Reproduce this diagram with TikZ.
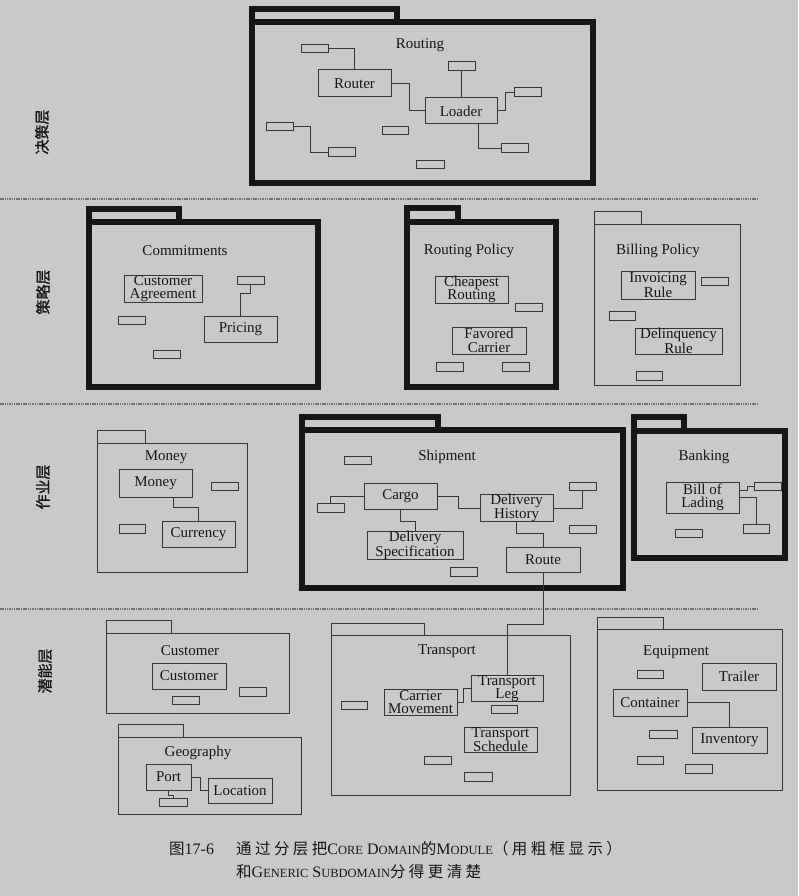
\documentclass[tikz,border=0pt]{standalone}
\usepackage{fontspec}
\setmainfont{Liberation Serif}
\newfontfamily\cjk{Noto Sans CJK SC}
\newfontfamily\cjkbold{Noto Sans CJK SC}[FakeBold=1.3]
\newfontfamily\cjkcap{Noto Sans CJK SC}[LetterSpace=22]
\definecolor{bg}{RGB}{201,201,201}
\definecolor{ink}{RGB}{22,22,22}
\definecolor{thinc}{RGB}{55,55,55}
\definecolor{sepc}{RGB}{115,115,115}
\tikzset{
 thickpkg/.style={draw=ink, line width=5.2pt, line join=miter},
 thinpkg/.style={draw=thinc, line width=1pt},
 clsbox/.style={draw=thinc, line width=1pt, inner sep=0pt, align=center, font=\fontsize{15}{13.3}\selectfont, text=ink},
 smallbox/.style={draw=thinc, line width=1pt, inner sep=0pt},
 conn/.style={draw=thinc, line width=1pt},
 ptitle/.style={font=\fontsize{15}{15}\selectfont, text=ink, inner sep=0pt},
 layerlbl/.style={font=\cjkbold\fontsize{15}{15}\selectfont, rotate=90, text=ink, inner sep=0pt},
 sepline/.style={draw=sepc, line width=1.8pt, dash pattern=on 1.5pt off 0.8pt},
 captxt/.style={font=\fontsize{16}{16}\selectfont, text=ink, inner sep=0pt, anchor=base west},
}
\newcommand\mysc[1]{{\fontsize{12.5}{12.5}\selectfont #1}}
\newcommand\cz[1]{{\cjkcap\fontsize{15.5}{15.5}\selectfont #1}}
\newcommand\cls[6]{\node[clsbox, minimum width={(#4)-(#2)}, minimum height={(#5)-(#3)}] (#1) at ({((#2)+(#4))/2},{((#3)+(#5))/2}) {#6};}
\newcommand\sm[5]{\node[smallbox, minimum width={(#4)-(#2)}, minimum height={(#5)-(#3)}] (#1) at ({((#2)+(#4))/2},{((#3)+(#5))/2}) {};}
% style, x1, ytab, xtab, ytop, x2, y2
\newcommand\pkg[7]{%
 \draw[#1] (#2,#5) -- (#2,#3) -- (#4,#3) -- (#4,#5);
 \draw[#1] (#2,#5) rectangle (#6,#7);}

\begin{document}
\begin{tikzpicture}[x=1pt,y=-1pt]
\useasboundingbox (0,0) rectangle (798,896);
\fill[bg] (0,0) rectangle (798,896);

% separators
\draw[sepline] (0,199) -- (757,199);
\draw[sepline] (0,404) -- (757,404);
\draw[sepline] (0,609) -- (757,609);

% layer labels
\node[layerlbl] (l1) at (42,132) {决策层};
\node[layerlbl] (l2) at (43,292) {策略层};
\node[layerlbl] (l3) at (43,487) {作业层};
\node[layerlbl] (l4) at (45,671) {潜能层};

% ================= Routing =================
\pkg{thickpkg}{252}{9}{397}{22}{593}{183}
\node[ptitle] (tRouting) at (420,45) {Routing};
\cls{router}{318}{70}{391}{97}{Router}
\cls{loader}{425}{98}{497}{124}{Loader}
\sm{r1}{301}{45}{328}{53}
\sm{r2}{448}{62}{475}{71}
\sm{r3}{514}{88}{541}{97}
\sm{r4}{501}{144}{528}{153}
\sm{r5}{266}{123}{293}{131}
\sm{r6}{328}{148}{355}{157}
\sm{r7}{382}{127}{408}{135}
\sm{r8}{416}{161}{444}{169}
\draw[conn] (r1.east) -| (router.north);
\draw[conn] (r2.south) -- (r2.south |- loader.north);
\draw[conn] (router.east) -- ++(18,0) |- (loader.west);
\draw[conn] (loader.east) -- ++(8,0) |- (r3.west);
\draw[conn] ([xshift=17pt]loader.south) |- (r4.west);
\draw[conn] (r5.east) -- ++(17,0) |- (r6.west);

% ================= Commitments =================
\pkg{thickpkg}{89}{209}{179}{222}{318}{387}
\node[ptitle] (tCommit) at (185,251) {Commitments};
\cls{ca}{124}{275}{202}{302}{Customer\\Agreement}
\cls{pricing}{204}{316}{277}{342}{Pricing}
\sm{c1}{237}{276}{264}{284}
\sm{c2}{118}{316}{145}{324}
\sm{c3}{153}{350}{180}{358}
\draw[conn] (c1.south) -- ++(0,9) -| (pricing.north);

% ================= Routing Policy =================
\pkg{thickpkg}{407}{208}{458}{222}{556}{387}
\node[ptitle] (tRP) at (469,251) {Routing Policy};
\cls{cheap}{435}{276}{508}{303}{Cheapest\\Routing}
\cls{fav}{452}{327}{526}{354}{Favored\\Carrier}
\sm{rp1}{515}{303}{542}{311}
\sm{rp2}{436}{362}{463}{371}
\sm{rp3}{502}{362}{529}{371}

% ================= Billing Policy =================
\pkg{thinpkg}{594}{211}{641}{224}{740}{385}
\node[ptitle] (tBP) at (658,251) {Billing Policy};
\cls{inv}{621}{271}{695}{299}{Invoicing\\Rule}
\cls{del}{635}{328}{722}{354}{Delinquency\\Rule}
\sm{bp1}{701}{277}{728}{285}
\sm{bp2}{609}{311}{635}{320}
\sm{bp3}{636}{371}{662}{380}

% ================= Money =================
\pkg{thinpkg}{97}{430}{145}{443}{247}{572}
\node[ptitle] (tMoney) at (166,457) {Money};
\cls{money}{119}{469}{192}{497}{Money}
\cls{cur}{162}{521}{235}{547}{Currency}
\sm{m1}{211}{482}{238}{490}
\sm{m2}{119}{524}{145}{533}
\draw[conn] ([xshift=17.5pt]money.south) -- ++(0,10) -| (cur.north);

% ================= Shipment =================
\pkg{thickpkg}{302}{417}{438}{430}{623}{588}
\node[ptitle] (tShip) at (447,457) {Shipment};
\cls{cargo}{364}{483}{437}{509}{Cargo}
\cls{dh}{480}{495}{553}{521}{Delivery\\History}
\cls{ds}{367}{533}{463}{558}{Delivery\\Specification}
\cls{route}{506}{547}{580}{572}{Route}
\sm{s1}{344}{456}{371}{464}
\sm{s2}{317}{503}{344}{512}
\sm{s3}{569}{482}{596}{490}
\sm{s4}{569}{525}{596}{533}
\sm{s5}{450}{567}{477}{576}
\draw[conn] (s2.north) |- (cargo.west);
\draw[conn] (cargo.east) -- ++(21,0) |- (dh.west);
\draw[conn] (dh.east) -| (s3.south);
\draw[conn] (cargo.south) -- ++(0,12) -| (ds.north);
\draw[conn] (dh.south) -- ++(0,12) -| (route.north);

% ================= Banking =================
\pkg{thickpkg}{634}{417}{684}{431}{785}{558}
\node[ptitle] (tBank) at (704,457) {Banking};
\cls{bol}{666}{482}{739}{513}{Bill of\\Lading}
\sm{b1}{754}{482}{781}{490}
\sm{b2}{743}{524}{769}{533}
\sm{b3}{675}{529}{702}{537}
\draw[conn] ([yshift=7.5pt]bol.east) -- ++(8,0) |- (b1.west);
\draw[conn] (bol.east) -| (b2.north);

% ================= Customer =================
\pkg{thinpkg}{106}{620}{171}{633}{289}{713}
\node[ptitle] (tCust) at (190,651) {Customer};
\cls{cust}{152}{663}{226}{689}{Customer}
\sm{cu1}{239}{687}{266}{696}
\sm{cu2}{172}{696}{199}{704}

% ================= Geography =================
\pkg{thinpkg}{118}{724}{183}{737}{301}{814}
\node[ptitle] (tGeo) at (198,753) {Geography};
\cls{port}{146}{764}{191}{790}{Port}
\cls{loc}{208}{778}{272}{803}{Location}
\sm{g1}{159}{798}{187}{806}
\draw[conn] (port.east) -- ++(9,0) |- (loc.west);
\draw[conn] (port.south) -- ++(0,5) -| (g1.north);

% ================= Transport =================
\pkg{thinpkg}{331}{623}{424}{635}{570}{795}
\node[ptitle] (tTrans) at (447,651) {Transport};
\cls{tl}{471}{676}{543}{701}{Transport\\Leg}
\cls{cm}{384}{689}{457}{715}{Carrier\\Movement}
\cls{ts}{464}{727}{537}{752}{Transport\\Schedule}
\sm{t1}{341}{701}{367}{709}
\sm{t2}{491}{705}{517}{713}
\sm{t3}{424}{756}{451}{764}
\sm{t4}{464}{772}{492}{781}
\draw[conn] (cm.east) -- ++(6,0) |- (tl.west);
\draw[conn] (route.south) -- ++(0,52) -| (tl.north);

% ================= Equipment =================
\pkg{thinpkg}{597}{617}{663}{629}{782}{790}
\node[ptitle] (tEquip) at (676,652) {Equipment};
\cls{trailer}{702}{663}{776}{690}{Trailer}
\cls{cont}{613}{689}{687}{716}{Container}
\cls{invent}{692}{727}{767}{753}{Inventory}
\sm{e1}{637}{670}{663}{678}
\sm{e2}{649}{730}{677}{738}
\sm{e3}{637}{756}{663}{764}
\sm{e4}{685}{764}{712}{773}
\draw[conn] (cont.east) -| (invent.north);

% ================= caption =================
\node[captxt] (capnum) at (169,854) {\cz{图}17-6};
\node[captxt] (cap1) at (236,854) {\cz{通过分层把}C\mysc{ORE} D\mysc{OMAIN}\cz{的}M\mysc{ODULE}\cz{（用粗框显示）}};
\node[captxt] (cap2) at (236,877) {\cz{和}G\mysc{ENERIC} S\mysc{UBDOMAIN}\cz{分得更清楚}};
\end{tikzpicture}
\end{document}
